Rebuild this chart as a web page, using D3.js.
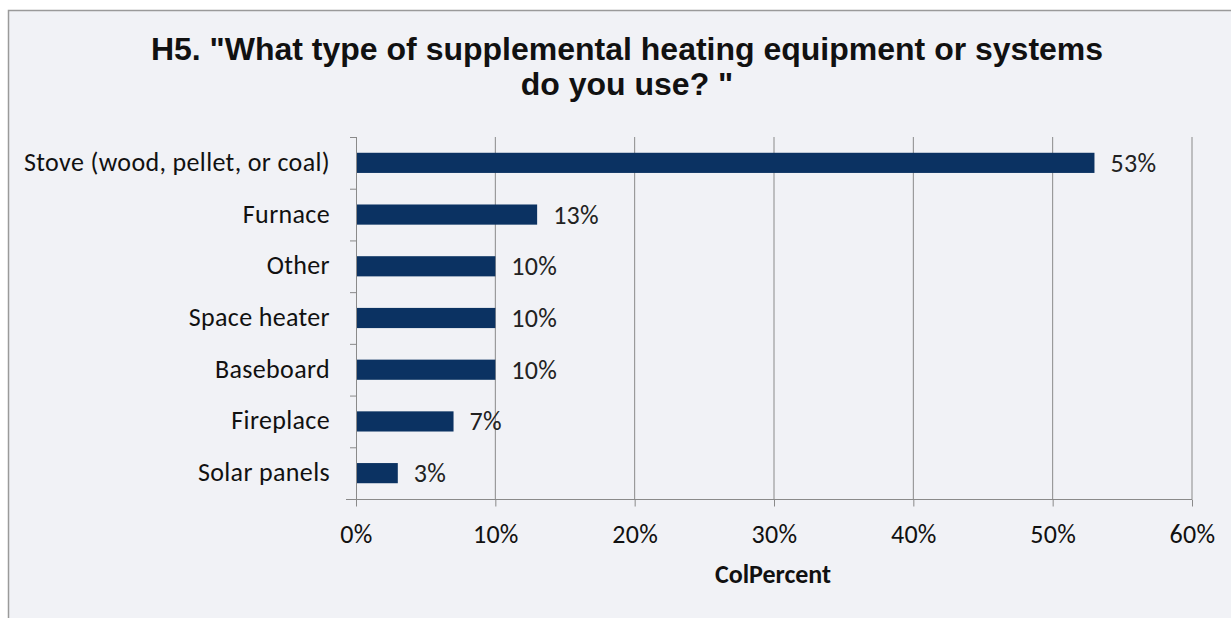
<!DOCTYPE html>
<html>
<head>
<meta charset="utf-8">
<script src="https://cdn.jsdelivr.net/npm/d3@7"></script>
<style>
  body { margin: 0; background: #fff; }
  svg { display: block; }
</style>
</head>
<body>
<svg width="1231" height="618"></svg>
<script>
var categories = ["Stove (wood, pellet, or coal)", "Furnace", "Other", "Space heater", "Baseboard", "Fireplace", "Solar panels"];
var values = [53, 13, 10, 10, 10, 7, 3];
var xTicks = [0, 10, 20, 30, 40, 50, 60];
var titleLines = ["H5. \"What type of supplemental heating equipment or systems", "do you use? \""];

var svg = d3.select("svg"),
    width = +svg.attr("width"),
    height = +svg.attr("height");

var labelFont = "Carlito, 'Open Sans', sans-serif";

// chart frame
svg.append("rect")
    .attr("x", 8.5).attr("y", 10.5)
    .attr("width", width).attr("height", height)
    .attr("fill", "#f1f2f6")
    .attr("stroke", "#9a9a9a")
    .attr("stroke-width", 1.5);

var x = d3.scaleLinear().domain([0, 60]).range([356, 1192]);
var y = d3.scaleBand().domain(categories).range([137, 499]).paddingInner(0.61).paddingOuter(0.305);
var yb = d3.scaleBand().domain(categories).range([137, 499]);

svg.selectAll("text.title")
    .data(titleLines)
    .enter().append("text")
    .attr("class", "title")
    .attr("x", 627)
    .attr("y", function(d, i) { return 60 + i * 35; })
    .attr("text-anchor", "middle")
    .style("font-family", "'Liberation Sans', Arial, sans-serif")
    .style("font-weight", "bold")
    .style("font-size", "32px")
    .style("fill", "#111")
    .text(function(d) { return d; });

var g = svg.append("g");

// gridlines
g.selectAll("line.grid")
    .data(xTicks.slice(1))
    .enter().append("line")
    .attr("x1", function(d) { return x(d); })
    .attr("x2", function(d) { return x(d); })
    .attr("y1", 137).attr("y2", 499)
    .attr("stroke", "#8a8a8a")
    .attr("stroke-width", 1);

// bars
g.selectAll("rect.bar")
    .data(values)
    .enter().append("rect")
    .attr("class", "bar")
    .attr("x", x(0))
    .attr("y", function(d, i) { return y(categories[i]); })
    .attr("width", function(d) { return x(d) - x(0); })
    .attr("height", y.bandwidth())
    .attr("fill", "#0b3262");

// value labels
g.selectAll("text.val")
    .data(values)
    .enter().append("text")
    .attr("x", function(d) { return x(d) + 16; })
    .attr("y", function(d, i) { return y(categories[i]) + y.bandwidth() / 2 + 9; })
    .style("font-family", labelFont)
    .style("font-size", "26px")
    .style("letter-spacing", "0.3px")
    .style("fill", "#222")
    .text(function(d) { return d + "%"; });

// y axis
g.append("line")
    .attr("x1", 356.5).attr("x2", 356.5)
    .attr("y1", 137).attr("y2", 499)
    .attr("stroke", "#8a8a8a");
g.selectAll("line.ytick")
    .data(categories.concat([null]))
    .enter().append("line")
    .attr("x1", 350).attr("x2", 356)
    .attr("y1", function(d, i) { return 137.5 + i * yb.step(); })
    .attr("y2", function(d, i) { return 137.5 + i * yb.step(); })
    .attr("stroke", "#8a8a8a");
g.selectAll("text.cat")
    .data(categories)
    .enter().append("text")
    .attr("x", 330)
    .attr("y", function(d) { return yb(d) + yb.bandwidth() / 2 + 8; })
    .attr("text-anchor", "end")
    .style("font-family", labelFont)
    .style("font-size", "26px")
    .style("letter-spacing", "0.35px")
    .style("fill", "#111")
    .text(function(d) { return d; });

// x axis
var xAxis = d3.axisBottom(x)
    .tickValues(xTicks)
    .tickSize(7)
    .tickFormat(function(d) { return d + "%"; });
var ax = svg.append("g")
    .attr("transform", "translate(0,499.5)")
    .call(xAxis);
ax.select(".domain").attr("d", "M346,0H" + x(60)).attr("stroke", "#8a8a8a");
ax.selectAll(".tick line").attr("stroke", "#8a8a8a");
ax.selectAll(".tick text")
    .attr("y", 43)
    .attr("dy", null)
    .style("font-family", labelFont)
    .style("font-size", "26px")
    .style("letter-spacing", "0.3px")
    .style("fill", "#111");

svg.append("text")
    .attr("x", 773).attr("y", 583)
    .attr("text-anchor", "middle")
    .style("font-family", labelFont)
    .style("font-weight", "bold")
    .style("font-size", "26px")
    .style("fill", "#111")
    .text("ColPercent");
</script>
</body>
</html>
